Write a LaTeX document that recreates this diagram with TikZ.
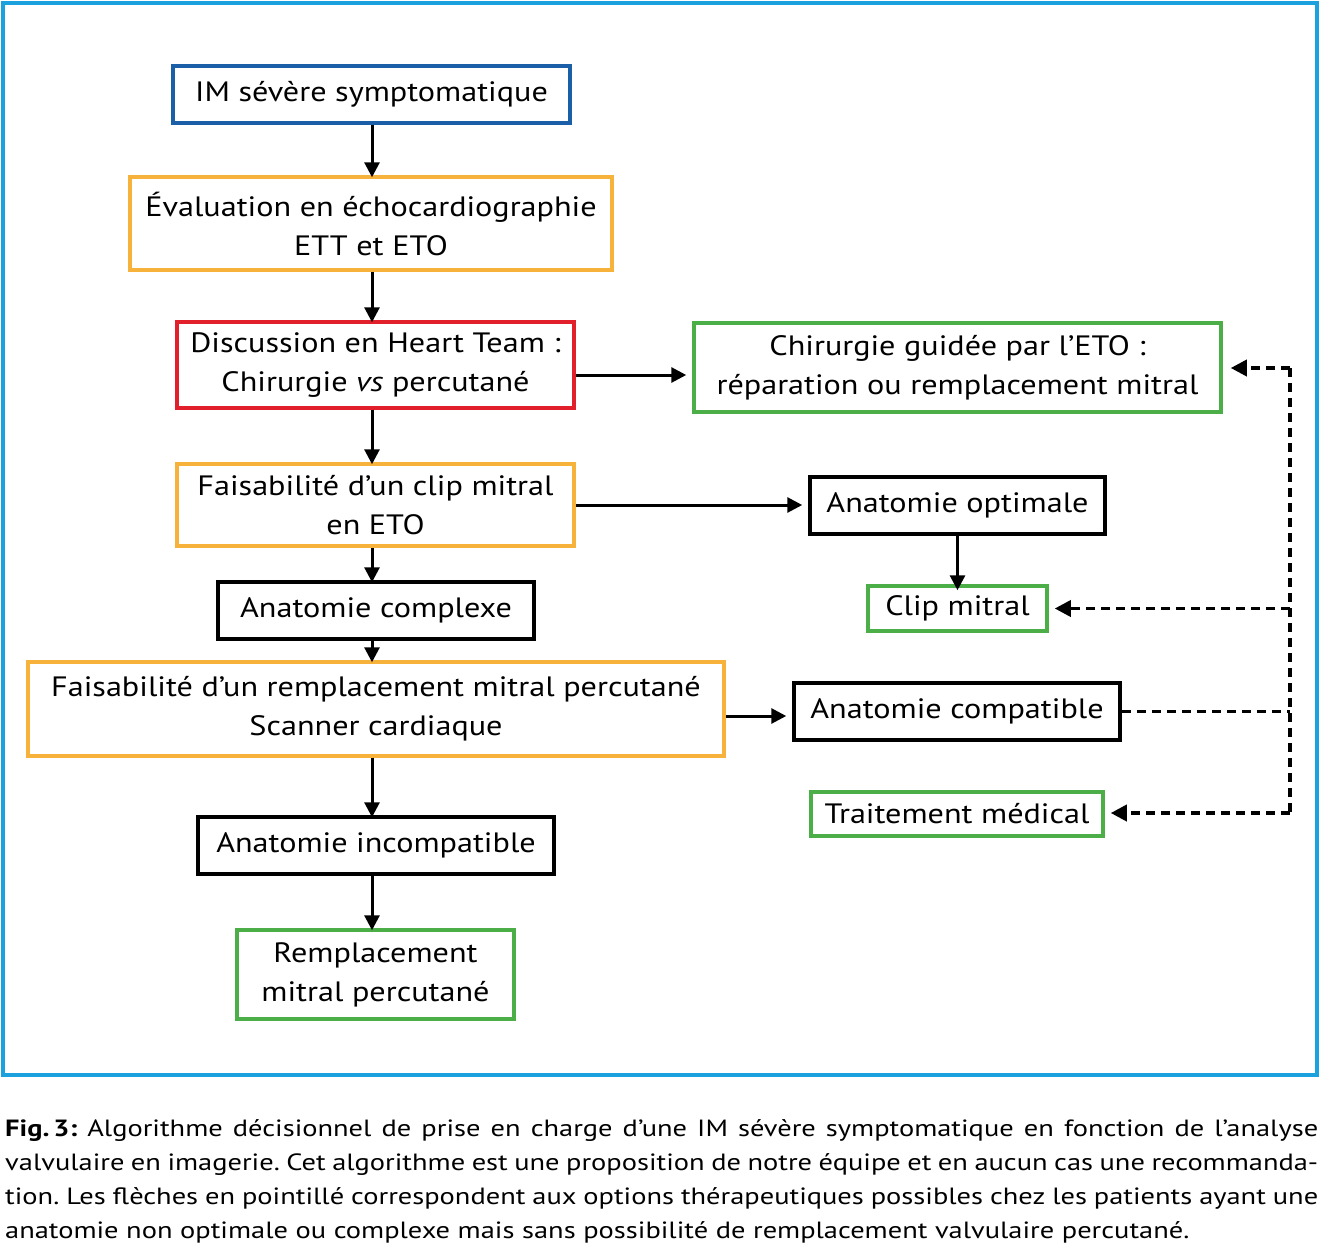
\documentclass[tikz,border=0pt]{standalone}
\usepackage{fontspec}
\setmainfont{PT Sans}[FakeStretch=1.15]
\newfontfamily\capfont{PT Sans}[FakeStretch=1.21]
\usetikzlibrary{arrows.meta}
\definecolor{framebl}{HTML}{1BA1DD}
\definecolor{darkbl}{HTML}{1B5FA9}
\definecolor{orng}{HTML}{F7B23B}
\definecolor{rd}{HTML}{E2202C}
\definecolor{grn}{HTML}{4BAE47}
\tikzset{
  box/.style={draw, line width=3.5pt, rectangle, align=center, inner sep=0pt,
    font=\fontsize{28}{39}\selectfont},
  arr/.style={line width=3pt, -{Triangle[length=15pt,width=15pt]}},
  darr/.style={line width=3.5pt, dash pattern=on 9pt off 6pt, -{Triangle[length=16pt,width=16pt]}},
  dline/.style={line width=3.5pt, dash pattern=on 9pt off 6pt}
}
\frenchspacing
\begin{document}
\begin{tikzpicture}[x=1pt,y=-1pt]
\useasboundingbox (0,0) rectangle (1320,1245);
\fill[white] (0,0) rectangle (1320,1245);
\draw[framebl, line width=4pt] (3,3) rectangle (1317,1075);

\node[box, darkbl, text=black, minimum width=397pt, minimum height=57pt] (b1) at (371.5,94.5) {IM sévère symptomatique};
\node[box, orng, text=black, minimum width=482pt, minimum height=93pt] (b2) at (371,223.5) {Évaluation en échocardiographie\\ETT et ETO};
\node[box, rd, text=black, minimum width=397pt, minimum height=86pt] (b3) at (375.5,365) {Discussion en Heart Team :\\Chirurgie \textit{vs} percutané};
\node[box, grn, text=black, minimum width=527pt, minimum height=89pt] (b4) at (957.5,367.5) {Chirurgie guidée par l’ETO :\\réparation ou remplacement mitral};
\node[box, orng, text=black, minimum width=397pt, minimum height=82pt] (b5) at (375.5,505) {Faisabilité d’un clip mitral\\en ETO};
\node[box, black, minimum width=295pt, minimum height=57pt] (b6) at (957.5,505.5) {Anatomie optimale};
\node[box, grn, text=black, minimum width=179pt, minimum height=45pt] (b7) at (957.5,608.5) {Clip mitral};
\node[box, black, minimum width=316pt, minimum height=57pt] (b8) at (376,610.5) {Anatomie complexe};
\node[box, orng, text=black, minimum width=696pt, minimum height=94pt] (b9) at (376,709) {Faisabilité d’un remplacement mitral percutané\\Scanner cardiaque};
\node[box, black, minimum width=326pt, minimum height=57pt] (b10) at (957,711.5) {Anatomie compatible};
\node[box, grn, text=black, minimum width=292pt, minimum height=44pt] (b11) at (957,814) {Traitement médical};
\node[box, black, minimum width=356pt, minimum height=57pt] (b12) at (376,845.5) {Anatomie incompatible};
\node[box, grn, text=black, minimum width=277pt, minimum height=89pt] (b13) at (375.5,974.5) {Remplacement\\mitral percutané};

\coordinate (col) at (372,0);
\foreach \a/\b in {b1/b2,b2/b3,b3/b5,b5/b8,b8/b9,b9/b12,b12/b13}{
  \draw[arr] (\a.south -| col) -- ([yshift=-2pt]\b.north -| col);
}
\draw[arr] (b3.east |- 0,375) -- ([xshift=-6pt]b4.west |- 0,375);
\draw[arr] (b5.east) -- ([xshift=-6pt]b6.west |- b5.east);
\draw[arr] (b9.east |- 0,716) -- ([xshift=-6pt]b10.west |- 0,716);
\draw[arr] (b6.south) -- ([yshift=-6pt]b7.north);

\coordinate (dtop) at (1290,368);
\coordinate (dbot) at (1290,813);
\draw[dline] (dtop) -- (dbot);
\draw[darr] (dtop) -- ([xshift=8pt]b4.east |- dtop);
\draw[darr] (dtop |- b7.east) -- ([xshift=6pt]b7.east);
\draw[dline] (b10.east) -- (dtop |- b10.east);
\draw[darr] (dbot) -- ([xshift=6pt]b11.east |- dbot);

\node[anchor=north west, inner sep=0pt, text width=1313pt, align=justify,
  font=\capfont\fontsize{23.5}{34}\selectfont] (cap) at (5,1119)
{\textbf{Fig.\,3:} Algorithme décisionnel de prise en charge d’une IM sévère symptomatique en fonction de l’analyse\linebreak valvulaire en imagerie. Cet algorithme est une proposition de notre équipe et en aucun cas une recommanda-\linebreak tion. Les flèches en pointillé correspondent aux options thérapeutiques possibles chez les patients ayant une\linebreak anatomie non optimale ou complexe mais sans possibilité de remplacement valvulaire percutané.\par};
\end{tikzpicture}
\end{document}
